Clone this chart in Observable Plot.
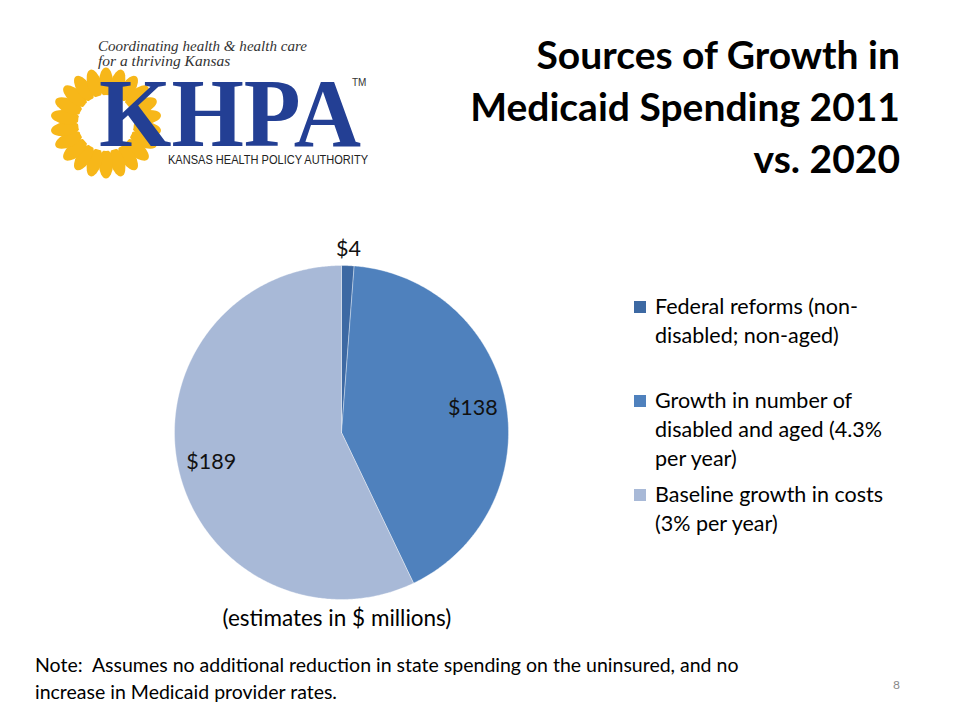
<!DOCTYPE html>
<html>
<head>
<meta charset="utf-8">
<script src="https://cdn.jsdelivr.net/npm/d3@7"></script>
<script src="https://cdn.jsdelivr.net/npm/@observablehq/plot@0.6"></script>
<style>
  html, body { margin: 0; padding: 0; background: #fff; }
  #page { position: relative; width: 960px; height: 720px; overflow: hidden; font-family: Lato, "Open Sans", sans-serif; color: #000; }
  .abs { position: absolute; white-space: nowrap; }
  #title { right: 60px; top: 28px; text-align: right; font-weight: bold; font-size: 39px; line-height: 52px; }
  #legend { left: 634px; top: 292px; font-size: 21.5px; line-height: 29px; }
  .item { position: absolute; left: 0; white-space: nowrap; }
  .sw { position: absolute; left: 0; width: 12px; height: 12px; }
  .txt { position: absolute; left: 21px; }
  #note { left: 35px; top: 651px; font-size: 19.5px; line-height: 27px; }
  #pagenum { left: 893px; top: 677px; font-size: 12px; color: #8a8a8a; }
  #est { left: 337px; top: 604px; transform: translateX(-50%); font-size: 22.5px; }
  #chart { left: 171px; top: 262px; }
</style>
</head>
<body>
<div id="page">
  <svg class="abs" style="left:0;top:0" width="400" height="190" viewBox="0 0 400 190">
    <g id="flower"></g>
    <text x="98" y="51" font-family="Liberation Serif, DejaVu Serif, serif" font-style="italic" font-size="15.5" fill="#333" textLength="209" lengthAdjust="spacingAndGlyphs">Coordinating health &amp; health care</text>
    <text x="98" y="66" font-family="Liberation Serif, DejaVu Serif, serif" font-style="italic" font-size="15.5" fill="#333">for a thriving Kansas</text>
    <text x="99" y="146" font-family="Liberation Serif, DejaVu Serif, serif" font-weight="bold" font-size="98" fill="#233f94" textLength="262" lengthAdjust="spacingAndGlyphs">KHPA</text>
    <text x="352" y="86" font-family="Liberation Sans, sans-serif" font-size="10" fill="#333">TM</text>
    <text x="168" y="164" font-family="Liberation Sans Narrow, Liberation Sans, sans-serif" font-size="12.5" fill="#222" textLength="200" lengthAdjust="spacingAndGlyphs">KANSAS HEALTH POLICY AUTHORITY</text>
  </svg>

  <div id="title" class="abs">Sources of Growth in<br>Medicaid Spending 2011<br>vs. 2020</div>

  <div id="chart" class="abs"></div>

  <div id="legend" class="abs"></div>

  <div id="est" class="abs">(estimates in $ millions)</div>
  <div id="note" class="abs">Note:&nbsp; Assumes no additional reduction in state spending on the uninsured, and no<br>increase in Medicaid provider rates.</div>
  <div id="pagenum" class="abs">8</div>
</div>
<script>
// ---- data ----
const categories = [
  "Federal reforms (non-disabled; non-aged)",
  "Growth in number of disabled and aged (4.3% per year)",
  "Baseline growth in costs (3% per year)"
];
const values = [4, 138, 189];
const labels = ["$4", "$138", "$189"];
const legendLines = [
  ["Federal reforms (non-", "disabled; non-aged)"],
  ["Growth in number of", "disabled and aged (4.3%", "per year)"],
  ["Baseline growth in costs", "(3% per year)"]
];
const colors = ["#3d69a3", "#4f81bd", "#a8b9d7"];

// ---- decorative logo flower ----
(function () {
  const g = d3.select("#flower");
  const cx = 106, cy = 123;
  const n = 22;
  for (let i = 0; i < n; i++) {
    const a = (i / n) * 360;
    g.append("ellipse")
      .attr("cx", 0).attr("cy", -41).attr("rx", 7, 0).attr("ry", 14.5)
      .attr("fill", "#f7b719")
      .attr("transform", `translate(${cx},${cy}) rotate(${a})`);
  }
  g.append("circle").attr("cx", cx).attr("cy", cy).attr("r", 28).attr("fill", "#fff");
})();

// ---- pie ----
const R = 167;          // pie radius in px
const half = 170;       // half size of the plot
const arcs = d3.pie().sort(null).value(d => d)(values);
const pts = [];
arcs.forEach((a, i) => {
  pts.push({cat: categories[i], x: 0, y: 0});
  const steps = Math.max(2, Math.ceil((a.endAngle - a.startAngle) / (Math.PI / 360)));
  for (let k = 0; k <= steps; k++) {
    const t = a.startAngle + (a.endAngle - a.startAngle) * k / steps;
    pts.push({cat: categories[i], x: R * Math.sin(t), y: R * Math.cos(t)});
  }
  pts.push({cat: categories[i], x: 0, y: 0});
});
const total = d3.sum(values);
const labelData = arcs.map((a, i) => {
  const m = (a.startAngle + a.endAngle) / 2;
  const r = values[i] / total < 0.05 ? R + 17 : R * 0.8;
  return {x: r * Math.sin(m), y: r * Math.cos(m), text: labels[i]};
});

const chart = Plot.plot({
  width: 2 * half,
  height: 2 * half,
  margin: 0,
  x: {domain: [-half, half], axis: null},
  y: {domain: [-half, half], axis: null},
  color: {domain: categories, range: colors},
  style: {fontFamily: "Lato, 'Open Sans', sans-serif", background: "transparent", overflow: "visible"},
  marks: [
    Plot.line(pts, {x: "x", y: "y", z: "cat", fill: "cat", stroke: "#ffffff", strokeWidth: 0.6, strokeOpacity: 0.6, curve: "linear"}),
    Plot.text(labelData, {x: "x", y: "y", text: "text", fontSize: 21.5, fill: "#111"})
  ]
});
document.getElementById("chart").appendChild(chart);

// ---- legend ----
const legend = d3.select("#legend");
const tops = [0, 94, 188];
legendLines.forEach((lines, i) => {
  const item = legend.append("div").attr("class", "item").style("top", tops[i] + "px");
  item.append("div").attr("class", "sw").style("top", "9px").style("background", colors[i]);
  item.append("div").attr("class", "txt").html(lines.join("<br>"));
});
</script>
</body>
</html>
